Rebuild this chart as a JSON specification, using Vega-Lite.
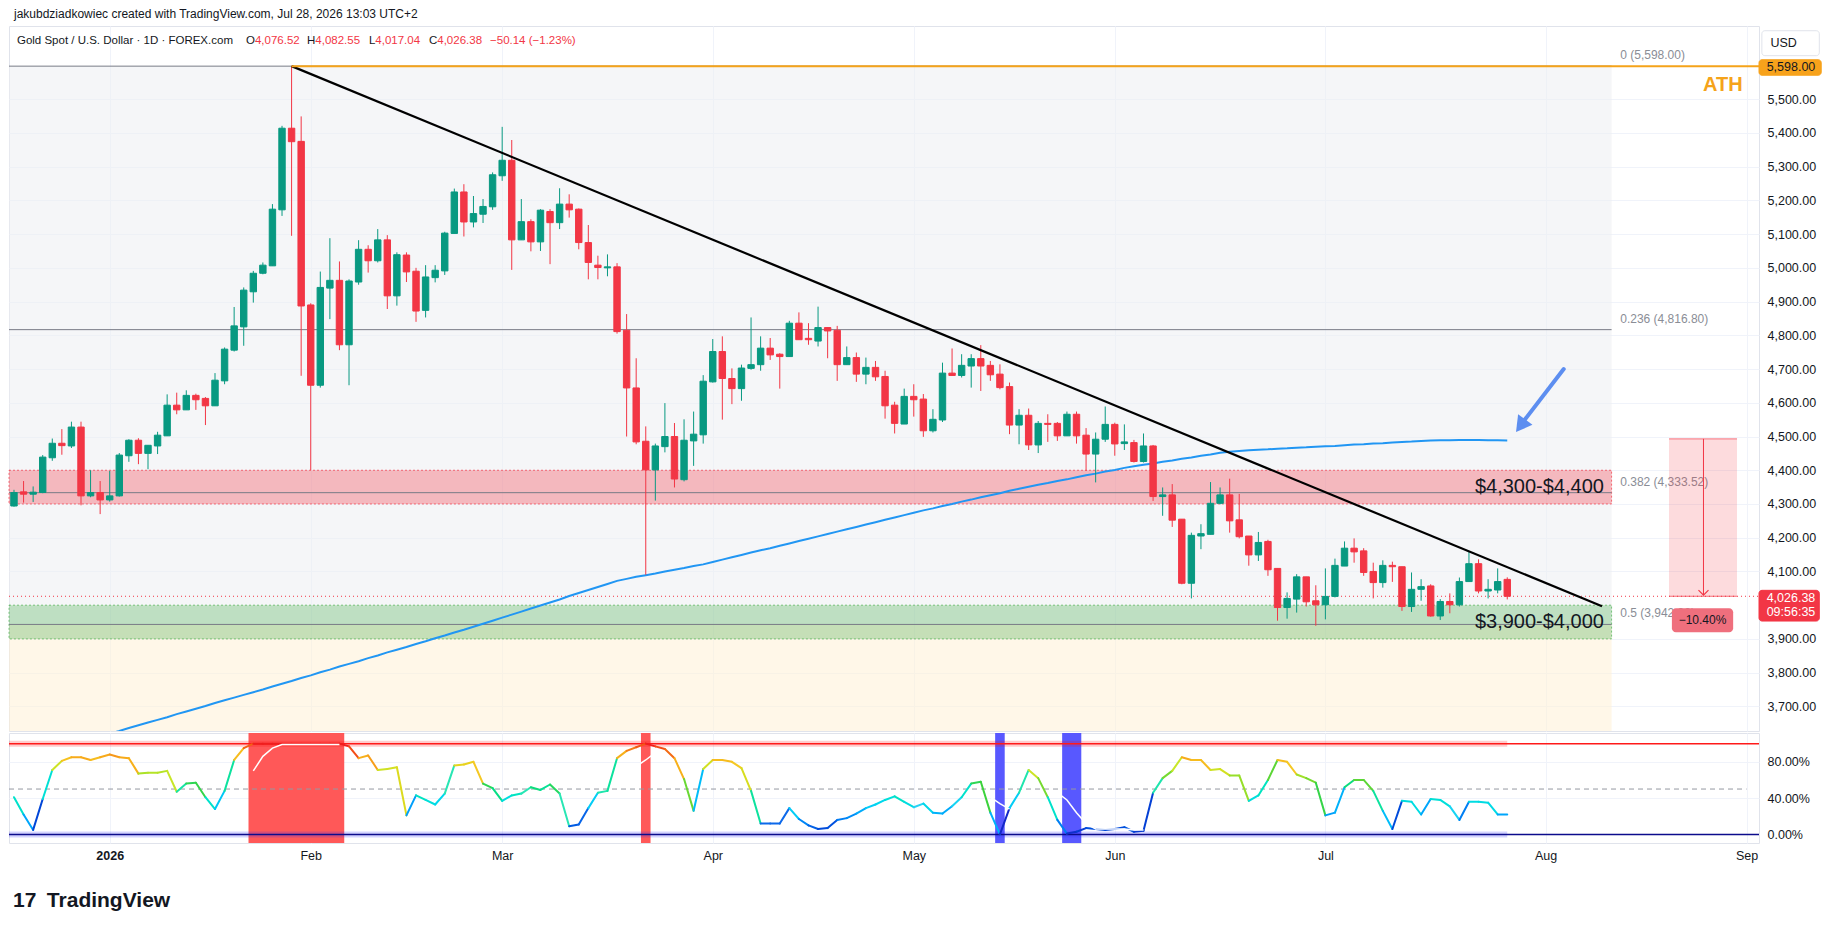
{
  "$schema": "https://vega.github.io/schema/vega-lite/v6.json",
  "background": "#ffffff",
  "padding": {"left": 5, "top": 7, "right": 0, "bottom": 0},
  "title": {"text": "jakubdziadkowiec created with TradingView.com, Jul 28, 2026 13:03 UTC+2", "anchor": "start", "frame": "group", "fontSize": 12, "fontWeight": "normal", "font": "Liberation Sans", "color": "#131722", "offset": 5, "dx": 5},
  "spacing": 0,
  "datasets": {
    "candles": [
      {"k":1,"o":4294,"h":4342,"l":4292,"c":4334,"ma":3538,"st":41},
      {"k":2,"o":4336,"h":4368,"l":4304,"c":4329,"ma":3546,"st":22},
      {"k":3,"o":4329,"h":4352,"l":4306,"c":4335,"ma":3554,"st":5},
      {"k":4,"o":4334,"h":4445,"l":4332,"c":4439,"ma":3562,"st":39},
      {"k":5,"o":4437,"h":4494,"l":4428,"c":4480,"ma":3570,"st":71},
      {"k":6,"o":4480,"h":4522,"l":4446,"c":4473,"ma":3578,"st":81},
      {"k":7,"o":4472,"h":4544,"l":4466,"c":4528,"ma":3586,"st":85},
      {"k":8,"o":4528,"h":4544,"l":4296,"c":4324,"ma":3595,"st":85},
      {"k":9,"o":4324,"h":4400,"l":4320,"c":4334,"ma":3603,"st":82},
      {"k":10,"o":4334,"h":4368,"l":4270,"c":4312,"ma":3611,"st":85},
      {"k":11,"o":4312,"h":4398,"l":4307,"c":4324,"ma":3619,"st":88},
      {"k":12,"o":4324,"h":4451,"l":4322,"c":4445,"ma":3627,"st":85},
      {"k":13,"o":4443,"h":4492,"l":4425,"c":4489,"ma":3636,"st":84},
      {"k":14,"o":4489,"h":4495,"l":4418,"c":4450,"ma":3644,"st":67},
      {"k":15,"o":4450,"h":4474,"l":4403,"c":4474,"ma":3652,"st":68},
      {"k":16,"o":4472,"h":4514,"l":4448,"c":4504,"ma":3660,"st":68},
      {"k":17,"o":4502,"h":4625,"l":4502,"c":4593,"ma":3668,"st":70},
      {"k":18,"o":4593,"h":4630,"l":4566,"c":4579,"ma":3677,"st":47},
      {"k":19,"o":4579,"h":4637,"l":4579,"c":4622,"ma":3685,"st":56},
      {"k":20,"o":4622,"h":4627,"l":4579,"c":4609,"ma":3693,"st":57},
      {"k":21,"o":4613,"h":4617,"l":4534,"c":4591,"ma":3701,"st":41},
      {"k":22,"o":4591,"h":4688,"l":4591,"c":4667,"ma":3710,"st":28},
      {"k":23,"o":4665,"h":4764,"l":4655,"c":4759,"ma":3718,"st":48},
      {"k":24,"o":4756,"h":4884,"l":4752,"c":4828,"ma":3726,"st":82},
      {"k":25,"o":4825,"h":4942,"l":4769,"c":4934,"ma":3734,"st":95},
      {"k":26,"o":4929,"h":4991,"l":4897,"c":4984,"ma":3742,"st":100},
      {"k":27,"o":4984,"h":5016,"l":4981,"c":5008,"ma":3750,"st":100},
      {"k":28,"o":5006,"h":5189,"l":5006,"c":5174,"ma":3759,"st":100},
      {"k":29,"o":5172,"h":5421,"l":5154,"c":5414,"ma":3767,"st":100},
      {"k":30,"o":5414,"h":5598,"l":5095,"c":5374,"ma":3775,"st":100},
      {"k":31,"o":5375,"h":5449,"l":4680,"c":4887,"ma":3784,"st":100},
      {"k":32,"o":4890,"h":4895,"l":4400,"c":4652,"ma":3792,"st":100},
      {"k":33,"o":4652,"h":4989,"l":4645,"c":4942,"ma":3801,"st":100},
      {"k":34,"o":4940,"h":5088,"l":4848,"c":4963,"ma":3809,"st":100},
      {"k":35,"o":4963,"h":5019,"l":4756,"c":4772,"ma":3818,"st":100},
      {"k":36,"o":4772,"h":4966,"l":4652,"c":4961,"ma":3826,"st":97},
      {"k":37,"o":4958,"h":5082,"l":4950,"c":5055,"ma":3834,"st":84},
      {"k":38,"o":5055,"h":5067,"l":4986,"c":5021,"ma":3843,"st":87},
      {"k":39,"o":5021,"h":5115,"l":5016,"c":5083,"ma":3851,"st":71},
      {"k":40,"o":5083,"h":5097,"l":4878,"c":4917,"ma":3860,"st":72},
      {"k":41,"o":4917,"h":5046,"l":4888,"c":5039,"ma":3868,"st":74},
      {"k":42,"o":5038,"h":5046,"l":4958,"c":4988,"ma":3876,"st":21},
      {"k":43,"o":4990,"h":5000,"l":4840,"c":4872,"ma":3885,"st":43},
      {"k":44,"o":4874,"h":5008,"l":4853,"c":4973,"ma":3893,"st":38},
      {"k":45,"o":4971,"h":5008,"l":4957,"c":4993,"ma":3902,"st":33},
      {"k":46,"o":4991,"h":5107,"l":4979,"c":5103,"ma":3910,"st":45},
      {"k":47,"o":5102,"h":5235,"l":5102,"c":5225,"ma":3919,"st":76},
      {"k":48,"o":5225,"h":5248,"l":5093,"c":5136,"ma":3927,"st":77},
      {"k":49,"o":5136,"h":5213,"l":5120,"c":5161,"ma":3936,"st":80},
      {"k":50,"o":5159,"h":5204,"l":5133,"c":5182,"ma":3945,"st":56},
      {"k":51,"o":5181,"h":5283,"l":5172,"c":5276,"ma":3954,"st":51},
      {"k":52,"o":5273,"h":5418,"l":5258,"c":5319,"ma":3963,"st":37},
      {"k":53,"o":5319,"h":5379,"l":4994,"c":5083,"ma":3972,"st":43},
      {"k":54,"o":5083,"h":5204,"l":5083,"c":5137,"ma":3981,"st":45},
      {"k":55,"o":5137,"h":5144,"l":5049,"c":5077,"ma":3990,"st":52},
      {"k":56,"o":5077,"h":5174,"l":5050,"c":5171,"ma":3999,"st":49},
      {"k":57,"o":5167,"h":5174,"l":5011,"c":5134,"ma":4008,"st":55},
      {"k":58,"o":5134,"h":5236,"l":5115,"c":5189,"ma":4017,"st":45},
      {"k":59,"o":5189,"h":5218,"l":5149,"c":5172,"ma":4027,"st":9},
      {"k":60,"o":5174,"h":5176,"l":5055,"c":5075,"ma":4036,"st":11},
      {"k":61,"o":5075,"h":5127,"l":4966,"c":5016,"ma":4045,"st":29},
      {"k":62,"o":5008,"h":5036,"l":4966,"c":5001,"ma":4054,"st":46},
      {"k":63,"o":5000,"h":5040,"l":4975,"c":5003,"ma":4063,"st":48},
      {"k":64,"o":5003,"h":5014,"l":4805,"c":4811,"ma":4072,"st":84},
      {"k":65,"o":4815,"h":4863,"l":4500,"c":4644,"ma":4078,"st":92},
      {"k":66,"o":4644,"h":4732,"l":4477,"c":4484,"ma":4084,"st":96},
      {"k":67,"o":4486,"h":4530,"l":4090,"c":4401,"ma":4089,"st":100},
      {"k":68,"o":4401,"h":4479,"l":4310,"c":4472,"ma":4094,"st":97},
      {"k":69,"o":4470,"h":4599,"l":4453,"c":4500,"ma":4100,"st":94},
      {"k":70,"o":4500,"h":4540,"l":4349,"c":4374,"ma":4105,"st":84},
      {"k":71,"o":4372,"h":4551,"l":4367,"c":4489,"ma":4110,"st":61},
      {"k":72,"o":4487,"h":4574,"l":4413,"c":4507,"ma":4116,"st":26},
      {"k":73,"o":4505,"h":4682,"l":4479,"c":4664,"ma":4121,"st":72},
      {"k":74,"o":4662,"h":4789,"l":4660,"c":4752,"ma":4128,"st":82},
      {"k":75,"o":4752,"h":4797,"l":4550,"c":4672,"ma":4135,"st":82},
      {"k":76,"o":4672,"h":4702,"l":4596,"c":4642,"ma":4142,"st":80},
      {"k":77,"o":4642,"h":4713,"l":4606,"c":4703,"ma":4149,"st":73},
      {"k":78,"o":4702,"h":4853,"l":4698,"c":4713,"ma":4156,"st":48},
      {"k":79,"o":4713,"h":4797,"l":4695,"c":4762,"ma":4163,"st":12},
      {"k":80,"o":4762,"h":4792,"l":4727,"c":4742,"ma":4169,"st":12},
      {"k":81,"o":4744,"h":4747,"l":4642,"c":4737,"ma":4176,"st":12},
      {"k":82,"o":4737,"h":4843,"l":4737,"c":4836,"ma":4183,"st":29},
      {"k":83,"o":4836,"h":4868,"l":4787,"c":4787,"ma":4190,"st":17},
      {"k":84,"o":4791,"h":4836,"l":4772,"c":4787,"ma":4197,"st":10},
      {"k":85,"o":4783,"h":4885,"l":4767,"c":4823,"ma":4204,"st":6},
      {"k":86,"o":4823,"h":4823,"l":4732,"c":4813,"ma":4211,"st":7},
      {"k":87,"o":4815,"h":4828,"l":4665,"c":4713,"ma":4218,"st":16},
      {"k":88,"o":4713,"h":4767,"l":4713,"c":4734,"ma":4225,"st":18},
      {"k":89,"o":4734,"h":4749,"l":4662,"c":4685,"ma":4232,"st":23},
      {"k":90,"o":4685,"h":4734,"l":4655,"c":4705,"ma":4239,"st":29},
      {"k":91,"o":4705,"h":4724,"l":4665,"c":4677,"ma":4246,"st":33},
      {"k":92,"o":4678,"h":4695,"l":4553,"c":4591,"ma":4253,"st":38},
      {"k":93,"o":4593,"h":4603,"l":4509,"c":4539,"ma":4260,"st":42},
      {"k":94,"o":4537,"h":4642,"l":4537,"c":4619,"ma":4267,"st":36},
      {"k":95,"o":4619,"h":4655,"l":4559,"c":4609,"ma":4274,"st":30},
      {"k":96,"o":4611,"h":4626,"l":4499,"c":4517,"ma":4281,"st":34},
      {"k":97,"o":4517,"h":4581,"l":4512,"c":4551,"ma":4287,"st":24},
      {"k":98,"o":4549,"h":4719,"l":4543,"c":4688,"ma":4294,"st":23},
      {"k":99,"o":4688,"h":4761,"l":4681,"c":4681,"ma":4300,"st":31},
      {"k":100,"o":4681,"h":4744,"l":4675,"c":4711,"ma":4307,"st":41},
      {"k":101,"o":4709,"h":4744,"l":4645,"c":4731,"ma":4313,"st":56},
      {"k":102,"o":4731,"h":4771,"l":4635,"c":4709,"ma":4320,"st":58},
      {"k":103,"o":4711,"h":4724,"l":4665,"c":4683,"ma":4326,"st":24},
      {"k":104,"o":4685,"h":4714,"l":4640,"c":4645,"ma":4332,"st":0},
      {"k":105,"o":4648,"h":4660,"l":4507,"c":4534,"ma":4339,"st":29},
      {"k":106,"o":4534,"h":4581,"l":4477,"c":4563,"ma":4345,"st":46},
      {"k":107,"o":4563,"h":4583,"l":4460,"c":4475,"ma":4351,"st":71},
      {"k":108,"o":4475,"h":4546,"l":4451,"c":4539,"ma":4357,"st":62},
      {"k":109,"o":4539,"h":4566,"l":4484,"c":4536,"ma":4362,"st":41},
      {"k":110,"o":4539,"h":4543,"l":4487,"c":4502,"ma":4368,"st":16},
      {"k":111,"o":4502,"h":4574,"l":4502,"c":4566,"ma":4373,"st":1},
      {"k":112,"o":4566,"h":4574,"l":4479,"c":4502,"ma":4379,"st":3},
      {"k":113,"o":4504,"h":4525,"l":4398,"c":4448,"ma":4385,"st":7},
      {"k":114,"o":4448,"h":4512,"l":4364,"c":4492,"ma":4390,"st":6},
      {"k":115,"o":4492,"h":4589,"l":4484,"c":4536,"ma":4396,"st":5},
      {"k":116,"o":4536,"h":4541,"l":4443,"c":4478,"ma":4401,"st":6},
      {"k":117,"o":4479,"h":4536,"l":4460,"c":4484,"ma":4407,"st":8},
      {"k":118,"o":4482,"h":4490,"l":4423,"c":4426,"ma":4412,"st":3},
      {"k":119,"o":4426,"h":4509,"l":4423,"c":4472,"ma":4416,"st":4},
      {"k":120,"o":4472,"h":4475,"l":4309,"c":4322,"ma":4420,"st":46},
      {"k":121,"o":4322,"h":4349,"l":4265,"c":4327,"ma":4425,"st":62},
      {"k":122,"o":4327,"h":4359,"l":4232,"c":4252,"ma":4429,"st":70},
      {"k":123,"o":4255,"h":4255,"l":4062,"c":4065,"ma":4434,"st":85},
      {"k":124,"o":4065,"h":4215,"l":4020,"c":4207,"ma":4438,"st":82},
      {"k":125,"o":4205,"h":4240,"l":4166,"c":4212,"ma":4443,"st":82},
      {"k":126,"o":4210,"h":4365,"l":4210,"c":4302,"ma":4447,"st":71},
      {"k":127,"o":4302,"h":4349,"l":4299,"c":4327,"ma":4452,"st":72},
      {"k":128,"o":4327,"h":4375,"l":4215,"c":4250,"ma":4455,"st":65},
      {"k":129,"o":4253,"h":4330,"l":4198,"c":4203,"ma":4457,"st":65},
      {"k":130,"o":4205,"h":4205,"l":4117,"c":4149,"ma":4459,"st":37},
      {"k":131,"o":4149,"h":4217,"l":4131,"c":4186,"ma":4461,"st":43},
      {"k":132,"o":4189,"h":4194,"l":4087,"c":4105,"ma":4462,"st":60},
      {"k":133,"o":4109,"h":4109,"l":3954,"c":3993,"ma":4464,"st":82},
      {"k":134,"o":3993,"h":4038,"l":3960,"c":4020,"ma":4465,"st":80},
      {"k":135,"o":4018,"h":4092,"l":3978,"c":4084,"ma":4467,"st":66},
      {"k":136,"o":4084,"h":4084,"l":3996,"c":4010,"ma":4468,"st":62},
      {"k":137,"o":4013,"h":4059,"l":3939,"c":4001,"ma":4470,"st":57},
      {"k":138,"o":4001,"h":4109,"l":3958,"c":4026,"ma":4471,"st":21},
      {"k":139,"o":4026,"h":4138,"l":4023,"c":4118,"ma":4472,"st":24},
      {"k":140,"o":4116,"h":4189,"l":4116,"c":4169,"ma":4474,"st":52},
      {"k":141,"o":4169,"h":4198,"l":4126,"c":4158,"ma":4476,"st":60},
      {"k":142,"o":4161,"h":4169,"l":4087,"c":4097,"ma":4477,"st":60},
      {"k":143,"o":4100,"h":4126,"l":4020,"c":4067,"ma":4479,"st":48},
      {"k":144,"o":4067,"h":4133,"l":4052,"c":4118,"ma":4480,"st":26},
      {"k":145,"o":4118,"h":4129,"l":4069,"c":4114,"ma":4482,"st":6},
      {"k":146,"o":4114,"h":4114,"l":3983,"c":3996,"ma":4484,"st":37},
      {"k":147,"o":3996,"h":4097,"l":3980,"c":4047,"ma":4485,"st":36},
      {"k":148,"o":4047,"h":4077,"l":4013,"c":4055,"ma":4487,"st":22},
      {"k":149,"o":4057,"h":4062,"l":3966,"c":3968,"ma":4488,"st":39},
      {"k":150,"o":3968,"h":4018,"l":3956,"c":4011,"ma":4489,"st":38},
      {"k":151,"o":4011,"h":4035,"l":3976,"c":4001,"ma":4489,"st":31},
      {"k":152,"o":4001,"h":4082,"l":3996,"c":4070,"ma":4490,"st":16},
      {"k":153,"o":4070,"h":4161,"l":4070,"c":4123,"ma":4490,"st":36},
      {"k":154,"o":4123,"h":4136,"l":4035,"c":4042,"ma":4490,"st":36},
      {"k":155,"o":4042,"h":4077,"l":4020,"c":4047,"ma":4489,"st":35},
      {"k":156,"o":4045,"h":4109,"l":4035,"c":4070,"ma":4489,"st":22},
      {"k":157,"o":4076.52,"h":4082.55,"l":4017.04,"c":4026.38,"ma":4488,"st":22}
    ],
    "signal": [
      {"k":26,"v":70,"run":1},{"k":27,"v":86,"run":1},{"k":28,"v":95,"run":1},{"k":29,"v":99,"run":1},{"k":30,"v":99,"run":1},{"k":31,"v":99,"run":1},{"k":32,"v":99,"run":1},{"k":33,"v":99,"run":1},{"k":34,"v":99,"run":1},{"k":35,"v":99,"run":1},
      {"k":66,"v":75,"run":2},{"k":67,"v":82,"run":2},{"k":68,"v":90,"run":2},
      {"k":103,"v":41,"run":3},{"k":104,"v":34,"run":3},{"k":105,"v":28,"run":3},
      {"k":110,"v":46,"run":4},{"k":111,"v":38,"run":4},{"k":112,"v":24,"run":4},{"k":113,"v":12,"run":4},{"k":114,"v":6,"run":4},{"k":115,"v":6,"run":4},{"k":116,"v":6,"run":4},{"k":117,"v":6,"run":4},{"k":118,"v":5,"run":4},{"k":119,"v":5,"run":4}
    ],
    "fib": [
      {"lvl":"0","p":5598,"from":0.478,"to":167.9,"lx":168.8},
      {"lvl":"0.236","p":4816.8,"from":0.478,"to":167.9,"lx":168.8},
      {"lvl":"0.382","p":4333.52,"from":0.478,"to":167.9,"lx":168.8},
      {"lvl":"0.5","p":3942.92,"from":0.478,"to":167.9,"lx":168.8}
    ],
    "zones": [
      {"lo":4300,"hi":4400,"kind":"res","label":"$4,300-$4,400","from":0.478,"to":167.9,"lx":167.1},
      {"lo":3900,"hi":4000,"kind":"sup","label":"$3,900-$4,000","from":0.478,"to":167.9,"lx":167.1}
    ],
    "legend": [
      {"k":1.31,"t":"Gold Spot / U.S. Dollar · 1D · FOREX.com","part":"lab"},
      {"k":25.24,"t":"O","part":"lab"},{"k":26.17,"t":"4,076.52","part":"val"},
      {"k":31.61,"t":"H","part":"lab"},{"k":32.48,"t":"4,082.55","part":"val"},
      {"k":38.09,"t":"L","part":"lab"},{"k":38.75,"t":"4,017.04","part":"val"},
      {"k":44.36,"t":"C","part":"lab"},{"k":45.22,"t":"4,026.38","part":"val"},
      {"k":50.73,"t":"−50.14 (−1.23%)","part":"val"}
    ]
  },
  "vconcat": [
    {
      "width": 1750,
      "height": 705,
      "layer": [
        {
          "data": {"values": [
            {"from":0.478,"to":167.9,"lo":3942.92,"hi":5598,"kind":"upper"},
            {"from":0.478,"to":167.9,"lo":3500,"hi":3942.92,"kind":"lower"}
          ]},
          "mark": {"type": "rect", "clip": true, "opacity": 0.55},
          "encoding": {
            "x": {"field": "from", "type": "quantitative", "scale": {"domain": [0.478, 183.3], "nice": false, "zero": false, "padding": 0},
                  "axis": {"values": [11,32,52,74,95,116,138,161,182], "labels": false, "ticks": false, "domain": false, "grid": true, "title": null}},
            "x2": {"field": "to"},
            "y": {"field": "lo", "type": "quantitative", "scale": {"domain": [3627, 5717], "nice": false, "zero": false},
                  "axis": {"orient": "right", "values": [3700,3800,3900,4100,4200,4300,4400,4500,4600,4700,4800,4900,5000,5100,5200,5300,5400,5500], "format": ",.2f", "grid": true, "labelPadding": 8, "title": null}},
            "y2": {"field": "hi"},
            "color": {"field": "kind", "type": "nominal", "scale": {"domain": ["upper","lower"], "range": ["#eceef2","#fff1d6"]}, "legend": null}
          }
        },
        {
          "data": {"name": "zones"},
          "mark": {"type": "rect", "fillOpacity": 0.32, "strokeDash": [2,2], "strokeWidth": 1, "strokeOpacity": 0.7},
          "encoding": {
            "x": {"field": "from", "type": "quantitative", "scale": {"domain": [0.478, 183.3], "nice": false, "zero": false, "padding": 0}},
            "x2": {"field": "to"},
            "y": {"field": "lo", "type": "quantitative", "scale": {"domain": [3627, 5717], "nice": false, "zero": false}},
            "y2": {"field": "hi"},
            "fill": {"field": "kind", "type": "nominal", "scale": {"domain": ["res","sup"], "range": ["#f23645","#4caf50"]}, "legend": null},
            "stroke": {"field": "kind", "type": "nominal", "scale": {"domain": ["res","sup"], "range": ["#f23645","#4caf50"]}, "legend": null}
          }
        },
        {
          "data": {"name": "fib"},
          "mark": {"type": "rule", "color": "#787b86", "strokeWidth": 1},
          "encoding": {
            "x": {"field": "from", "type": "quantitative", "scale": {"domain": [0.478, 183.3], "nice": false, "zero": false, "padding": 0}},
            "x2": {"field": "to"},
            "y": {"field": "p", "type": "quantitative", "scale": {"domain": [3627, 5717], "nice": false, "zero": false}}
          }
        },
        {
          "data": {"name": "fib"},
          "transform": [{"calculate": "datum.lvl + ' (' + format(datum.p, ',.2f') + ')'", "as": "txt"}],
          "mark": {"type": "text", "align": "left", "baseline": "middle", "dy": -11, "fontSize": 12, "color": "#8a8d96"},
          "encoding": {
            "x": {"field": "lx", "type": "quantitative", "scale": {"domain": [0.478, 183.3], "nice": false, "zero": false, "padding": 0}},
            "y": {"field": "p", "type": "quantitative", "scale": {"domain": [3627, 5717], "nice": false, "zero": false}},
            "text": {"field": "txt"}
          }
        },
        {
          "data": {"values": [{"from":0.478,"to":183.3,"p":4026.38}]},
          "mark": {"type": "rule", "color": "#f23645", "strokeWidth": 1, "strokeDash": [1,3]},
          "encoding": {
            "x": {"field": "from", "type": "quantitative", "scale": {"domain": [0.478, 183.3], "nice": false, "zero": false, "padding": 0}},
            "x2": {"field": "to"},
            "y": {"field": "p", "type": "quantitative", "scale": {"domain": [3627, 5717], "nice": false, "zero": false}}
          }
        },
        {
          "data": {"name": "candles"},
          "mark": {"type": "line", "color": "#2196f3", "strokeWidth": 2, "clip": true},
          "encoding": {
            "x": {"field": "k", "type": "quantitative", "scale": {"domain": [0.478, 183.3], "nice": false, "zero": false, "padding": 0}},
            "y": {"field": "ma", "type": "quantitative", "scale": {"domain": [3627, 5717], "nice": false, "zero": false}}
          }
        },
        {
          "data": {"name": "candles"},
          "mark": {"type": "rule", "strokeWidth": 1},
          "encoding": {
            "x": {"field": "k", "type": "quantitative", "scale": {"domain": [0.478, 183.3], "nice": false, "zero": false, "padding": 0}},
            "y": {"field": "l", "type": "quantitative", "scale": {"domain": [3627, 5717], "nice": false, "zero": false}},
            "y2": {"field": "h"},
            "color": {"condition": {"test": "datum.c >= datum.o", "value": "#089981"}, "value": "#f23645"}
          }
        },
        {
          "data": {"name": "candles"},
          "mark": {"type": "bar", "width": 6.4, "strokeWidth": 1},
          "encoding": {
            "x": {"field": "k", "type": "quantitative", "scale": {"domain": [0.478, 183.3], "nice": false, "zero": false, "padding": 0}},
            "y": {"field": "o", "type": "quantitative", "scale": {"domain": [3627, 5717], "nice": false, "zero": false}},
            "y2": {"field": "c"},
            "fill": {"condition": {"test": "datum.c >= datum.o", "value": "#089981"}, "value": "#f23645"},
            "stroke": {"condition": {"test": "datum.c >= datum.o", "value": "#089981"}, "value": "#f23645"}
          }
        },
        {
          "data": {"values": [{"k":30,"p":5598},{"k":166.9,"p":3997}]},
          "mark": {"type": "line", "color": "#000000", "strokeWidth": 2.2},
          "encoding": {
            "x": {"field": "k", "type": "quantitative", "scale": {"domain": [0.478, 183.3], "nice": false, "zero": false, "padding": 0}},
            "y": {"field": "p", "type": "quantitative", "scale": {"domain": [3627, 5717], "nice": false, "zero": false}}
          }
        },
        {
          "data": {"values": [{"from":30,"to":183.3,"p":5598}]},
          "mark": {"type": "rule", "color": "#f5a31a", "strokeWidth": 2},
          "encoding": {
            "x": {"field": "from", "type": "quantitative", "scale": {"domain": [0.478, 183.3], "nice": false, "zero": false, "padding": 0}},
            "x2": {"field": "to"},
            "y": {"field": "p", "type": "quantitative", "scale": {"domain": [3627, 5717], "nice": false, "zero": false}}
          }
        },
        {
          "data": {"values": [{"from":173.9,"to":181,"lo":4026.38,"hi":4493}]},
          "mark": {"type": "rect", "color": "#f23645", "opacity": 0.18},
          "encoding": {
            "x": {"field": "from", "type": "quantitative", "scale": {"domain": [0.478, 183.3], "nice": false, "zero": false, "padding": 0}},
            "x2": {"field": "to"},
            "y": {"field": "lo", "type": "quantitative", "scale": {"domain": [3627, 5717], "nice": false, "zero": false}},
            "y2": {"field": "hi"}
          }
        },
        {
          "data": {"values": [{"from":173.9,"to":181,"p":4493},{"from":173.9,"to":181,"p":4026.38}]},
          "mark": {"type": "rule", "color": "#f23645", "strokeWidth": 1, "opacity": 0.7},
          "encoding": {
            "x": {"field": "from", "type": "quantitative", "scale": {"domain": [0.478, 183.3], "nice": false, "zero": false, "padding": 0}},
            "x2": {"field": "to"},
            "y": {"field": "p", "type": "quantitative", "scale": {"domain": [3627, 5717], "nice": false, "zero": false}}
          }
        },
        {
          "data": {"values": [{"k":177.5,"top":4493,"tip":4030}]},
          "mark": {"type": "rule", "color": "#f23645", "strokeWidth": 1},
          "encoding": {
            "x": {"field": "k", "type": "quantitative", "scale": {"domain": [0.478, 183.3], "nice": false, "zero": false, "padding": 0}},
            "y": {"field": "top", "type": "quantitative", "scale": {"domain": [3627, 5717], "nice": false, "zero": false}},
            "y2": {"field": "tip"}
          }
        },
        {
          "data": {"values": [{"k":177.5,"tip":4030}]},
          "mark": {"type": "point", "shape": "M-1,-1L0,0L1,-1", "filled": false, "stroke": "#f23645", "strokeWidth": 1.2, "size": 100, "opacity": 1},
          "encoding": {
            "x": {"field": "k", "type": "quantitative", "scale": {"domain": [0.478, 183.3], "nice": false, "zero": false, "padding": 0}},
            "y": {"field": "tip", "type": "quantitative", "scale": {"domain": [3627, 5717], "nice": false, "zero": false}}
          }
        },
        {
          "data": {"values": [{"from":174.2,"to":180.6,"lo":3920,"hi":3991}]},
          "mark": {"type": "rect", "color": "#ef6f7d", "cornerRadius": 4},
          "encoding": {
            "x": {"field": "from", "type": "quantitative", "scale": {"domain": [0.478, 183.3], "nice": false, "zero": false, "padding": 0}},
            "x2": {"field": "to"},
            "y": {"field": "lo", "type": "quantitative", "scale": {"domain": [3627, 5717], "nice": false, "zero": false}},
            "y2": {"field": "hi"}
          }
        },
        {
          "data": {"values": [{"k":177.4,"p":3956,"t":"−10.40%"}]},
          "mark": {"type": "text", "fontSize": 12, "color": "#131722", "align": "center", "baseline": "middle"},
          "encoding": {
            "x": {"field": "k", "type": "quantitative", "scale": {"domain": [0.478, 183.3], "nice": false, "zero": false, "padding": 0}},
            "y": {"field": "p", "type": "quantitative", "scale": {"domain": [3627, 5717], "nice": false, "zero": false}},
            "text": {"field": "t"}
          }
        },
        {
          "data": {"values": [{"k0":162.9,"p0":4700,"k1":158.7,"p1":4545}]},
          "mark": {"type": "rule", "color": "#5d8ef0", "strokeWidth": 4, "strokeCap": "round"},
          "encoding": {
            "x": {"field": "k0", "type": "quantitative", "scale": {"domain": [0.478, 183.3], "nice": false, "zero": false, "padding": 0}},
            "x2": {"field": "k1"},
            "y": {"field": "p0", "type": "quantitative", "scale": {"domain": [3627, 5717], "nice": false, "zero": false}},
            "y2": {"field": "p1"}
          }
        },
        {
          "data": {"values": [{"k":158.4,"p":4532}]},
          "mark": {"type": "point", "shape": "triangle-up", "filled": true, "color": "#5d8ef0", "size": 320, "angle": 216.7, "opacity": 1},
          "encoding": {
            "x": {"field": "k", "type": "quantitative", "scale": {"domain": [0.478, 183.3], "nice": false, "zero": false, "padding": 0}},
            "y": {"field": "p", "type": "quantitative", "scale": {"domain": [3627, 5717], "nice": false, "zero": false}}
          }
        },
        {
          "data": {"name": "zones"},
          "transform": [{"calculate": "(datum.lo + datum.hi) / 2", "as": "mid"}],
          "mark": {"type": "text", "align": "right", "baseline": "middle", "fontSize": 20, "color": "#131722"},
          "encoding": {
            "x": {"field": "lx", "type": "quantitative", "scale": {"domain": [0.478, 183.3], "nice": false, "zero": false, "padding": 0}},
            "y": {"field": "mid", "type": "quantitative", "scale": {"domain": [3627, 5717], "nice": false, "zero": false}},
            "text": {"field": "label"}
          }
        },
        {
          "data": {"values": [{"k":181.6,"p":5541,"t":"ATH"}]},
          "mark": {"type": "text", "align": "right", "baseline": "middle", "fontSize": 20, "fontWeight": "bold", "color": "#f5a31a"},
          "encoding": {
            "x": {"field": "k", "type": "quantitative", "scale": {"domain": [0.478, 183.3], "nice": false, "zero": false, "padding": 0}},
            "y": {"field": "p", "type": "quantitative", "scale": {"domain": [3627, 5717], "nice": false, "zero": false}},
            "text": {"field": "t"}
          }
        },
        {
          "data": {"name": "legend"},
          "mark": {"type": "text", "align": "left", "baseline": "middle", "fontSize": 11.5},
          "encoding": {
            "x": {"field": "k", "type": "quantitative", "scale": {"domain": [0.478, 183.3], "nice": false, "zero": false, "padding": 0}},
            "y": {"datum": 5672, "type": "quantitative", "scale": {"domain": [3627, 5717], "nice": false, "zero": false}},
            "text": {"field": "t"},
            "color": {"field": "part", "type": "nominal", "scale": {"domain": ["lab","val"], "range": ["#131722","#f23645"]}, "legend": null}
          }
        },
        {
          "data": {"values": [
            {"from":183.3,"to":189.8,"lo":5571,"hi":5617,"kind":"ath"},
            {"from":183.3,"to":189.6,"lo":3953,"hi":4044,"kind":"last"},
            {"from":183.6,"to":189.6,"lo":5629,"hi":5703,"kind":"usd"}
          ]},
          "mark": {"type": "rect", "cornerRadius": 3, "strokeWidth": 1},
          "encoding": {
            "x": {"field": "from", "type": "quantitative", "scale": {"domain": [0.478, 183.3], "nice": false, "zero": false, "padding": 0}},
            "x2": {"field": "to"},
            "y": {"field": "lo", "type": "quantitative", "scale": {"domain": [3627, 5717], "nice": false, "zero": false}},
            "y2": {"field": "hi"},
            "fill": {"field": "kind", "type": "nominal", "scale": {"domain": ["ath","last","usd"], "range": ["#f7a21b","#f23645","#ffffff"]}, "legend": null},
            "stroke": {"field": "kind", "type": "nominal", "scale": {"domain": ["ath","last","usd"], "range": ["#f7a21b","#f23645","#e0e3eb"]}, "legend": null}
          }
        },
        {
          "data": {"values": [
            {"k":184.1,"p":5595,"t":"5,598.00","kind":"ath"},
            {"k":184.1,"p":4021,"t":"4,026.38","kind":"last"},
            {"k":184.1,"p":3979,"t":"09:56:35","kind":"last"},
            {"k":184.5,"p":5667,"t":"USD","kind":"usd"}
          ]},
          "mark": {"type": "text", "align": "left", "baseline": "middle", "fontSize": 12.5},
          "encoding": {
            "x": {"field": "k", "type": "quantitative", "scale": {"domain": [0.478, 183.3], "nice": false, "zero": false, "padding": 0}},
            "y": {"field": "p", "type": "quantitative", "scale": {"domain": [3627, 5717], "nice": false, "zero": false}},
            "text": {"field": "t"},
            "color": {"field": "kind", "type": "nominal", "scale": {"domain": ["ath","last","usd"], "range": ["#131722","#ffffff","#131722"]}, "legend": null}
          }
        }
      ],
      "resolve": {"scale": {"color": "independent", "fill": "independent", "stroke": "independent"}}
    },
    {
      "width": 1750,
      "height": 110,
      "title": {"text": "17\u2002TradingView", "orient": "bottom", "anchor": "start", "fontSize": 21, "fontWeight": "bold", "color": "#131722", "offset": 28, "font": "Liberation Sans", "dx": 7},
      "layer": [
        {
          "data": {"values": [
            {"from":25.5,"to":35.5,"kind":"ob"},
            {"from":66.5,"to":67.5,"kind":"ob"},
            {"from":103.5,"to":104.5,"kind":"os"},
            {"from":110.5,"to":112.5,"kind":"os"}
          ]},
          "mark": {"type": "rect", "opacity": 0.95},
          "encoding": {
            "x": {"field": "from", "type": "quantitative", "scale": {"domain": [0.478, 183.3], "nice": false, "zero": false, "padding": 0},
                  "axis": {"values": [11,32,52,74,95,116,138,161,182], "labelExpr": "datum.value == 11 ? '2026' : datum.value == 32 ? 'Feb' : datum.value == 52 ? 'Mar' : datum.value == 74 ? 'Apr' : datum.value == 95 ? 'May' : datum.value == 116 ? 'Jun' : datum.value == 138 ? 'Jul' : datum.value == 161 ? 'Aug' : 'Sep'",
                           "labelFontWeight": {"condition": {"test": "datum.value == 11", "value": "bold"}, "value": "normal"},
                           "grid": true, "labelPadding": 6, "labelFlush": false, "title": null}},
            "x2": {"field": "to"},
            "y": {"datum": -9.4, "type": "quantitative", "scale": {"domain": [-9.4, 111.7], "nice": false, "zero": false},
                  "axis": {"orient": "right", "values": [0, 40, 80], "labelExpr": "datum.value + '.00%'", "grid": true, "labelPadding": 8, "title": null}},
            "y2": {"datum": 111.7},
            "color": {"field": "kind", "type": "nominal", "scale": {"domain": ["ob","os"], "range": ["#ff4f4f","#4f4fff"]}, "legend": null}
          }
        },
        {
          "data": {"values": [{"from":0.478,"to":157,"v":100,"kind":"hi"},{"from":0.478,"to":157,"v":0,"kind":"lo"}]},
          "mark": {"type": "rule", "strokeWidth": 6, "opacity": 0.2},
          "encoding": {
            "x": {"field": "from", "type": "quantitative", "scale": {"domain": [0.478, 183.3], "nice": false, "zero": false, "padding": 0}},
            "x2": {"field": "to"},
            "y": {"field": "v", "type": "quantitative", "scale": {"domain": [-9.4, 111.7], "nice": false, "zero": false}},
            "color": {"field": "kind", "type": "nominal", "scale": {"domain": ["hi","lo"], "range": ["#ff0000","#2929ff"]}, "legend": null}
          }
        },
        {
          "data": {"values": [{"from":0.478,"to":183.3,"v":100,"kind":"hi"},{"from":0.478,"to":183.3,"v":0,"kind":"lo"}]},
          "mark": {"type": "rule", "strokeWidth": 1.5},
          "encoding": {
            "x": {"field": "from", "type": "quantitative", "scale": {"domain": [0.478, 183.3], "nice": false, "zero": false, "padding": 0}},
            "x2": {"field": "to"},
            "y": {"field": "v", "type": "quantitative", "scale": {"domain": [-9.4, 111.7], "nice": false, "zero": false}},
            "color": {"field": "kind", "type": "nominal", "scale": {"domain": ["hi","lo"], "range": ["#ff1a1a","#0c0c8c"]}, "legend": null}
          }
        },
        {
          "data": {"values": [{"from":0.478,"to":182,"v":50}]},
          "mark": {"type": "rule", "color": "#9598a1", "strokeWidth": 1, "strokeDash": [5,4]},
          "encoding": {
            "x": {"field": "from", "type": "quantitative", "scale": {"domain": [0.478, 183.3], "nice": false, "zero": false, "padding": 0}},
            "x2": {"field": "to"},
            "y": {"field": "v", "type": "quantitative", "scale": {"domain": [-9.4, 111.7], "nice": false, "zero": false}}
          }
        },
        {
          "data": {"name": "candles"},
          "transform": [
            {"window": [{"op": "lead", "field": "st", "as": "st2"}, {"op": "lead", "field": "k", "as": "k2"}], "sort": [{"field": "k", "order": "ascending"}]},
            {"filter": "isValid(datum.k2)"}
          ],
          "mark": {"type": "rule", "strokeWidth": 2, "strokeCap": "round"},
          "encoding": {
            "x": {"field": "k", "type": "quantitative", "scale": {"domain": [0.478, 183.3], "nice": false, "zero": false, "padding": 0}},
            "x2": {"field": "k2"},
            "y": {"field": "st", "type": "quantitative", "scale": {"domain": [-9.4, 111.7], "nice": false, "zero": false}},
            "y2": {"field": "st2"},
            "color": {"field": "st", "type": "quantitative", "scale": {"domain": [0, 15, 30, 45, 58, 70, 80, 90, 100], "range": ["#1428c8", "#1e78f0", "#28d2f5", "#28e6b4", "#3cd23c", "#c8e628", "#f5c823", "#f58c1e", "#f01e1e"]}, "legend": null}
          }
        },
        {
          "data": {"name": "signal"},
          "mark": {"type": "line", "color": "#ffffff", "strokeWidth": 1.5},
          "encoding": {
            "x": {"field": "k", "type": "quantitative", "scale": {"domain": [0.478, 183.3], "nice": false, "zero": false, "padding": 0}},
            "y": {"field": "v", "type": "quantitative", "scale": {"domain": [-9.4, 111.7], "nice": false, "zero": false}},
            "detail": {"field": "run"}
          }
        }
      ],
      "resolve": {"scale": {"color": "independent"}}
    }
  ],
  "config": {
    "font": "Liberation Sans",
    "view": {"stroke": "#e0e3eb"},
    "scale": {"continuousPadding": 0},
    "axis": {"gridColor": "#f0f3fa", "gridWidth": 1, "domain": false, "ticks": false, "labelFont": "Liberation Sans", "labelFontSize": 12.5, "labelColor": "#131722", "title": null},
    "text": {"font": "Liberation Sans"}
  }
}
